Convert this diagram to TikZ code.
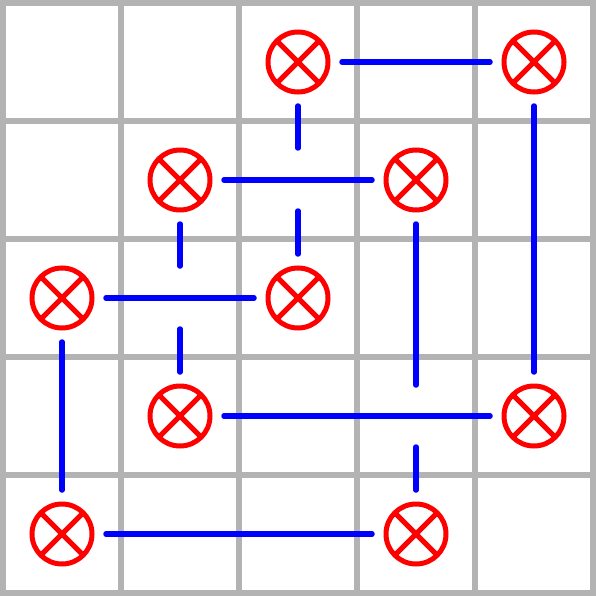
\documentclass[tikz,border=0pt]{standalone}
\begin{document}
\begin{tikzpicture}[x=1pt,y=-1pt,
  gridline/.style={draw={rgb,255:red,179;green,179;blue,179}, line width=6pt},
  cell/.style={circle, draw=red, line width=5pt, minimum size=60pt, inner sep=0pt,
    path picture={\draw[red,line width=5pt] (path picture bounding box.north west)--(path picture bounding box.south east)
      (path picture bounding box.north east)--(path picture bounding box.south west);}},
  wire/.style={draw=blue, line width=5.5pt, line cap=round, shorten >=11.5pt, shorten <=11.5pt},
  wirehalf/.style={draw=blue, line width=5.5pt, line cap=round, shorten <=11.5pt}]
\useasboundingbox (0,0) rectangle (596,596);
\fill[white] (0,0) rectangle (596,596);
\foreach \p in {3,121,239,357,475,593}{
  \draw[gridline] (\p,0) -- (\p,596);
  \draw[gridline] (0,\p) -- (596,\p);
}
% nodes
\node[cell] (a) at (298,62) {};
\node[cell] (b) at (534,62) {};
\node[cell] (c) at (180,180) {};
\node[cell] (d) at (416,180) {};
\node[cell] (e) at (62,298) {};
\node[cell] (f) at (298,298) {};
\node[cell] (g) at (180,416) {};
\node[cell] (h) at (534,416) {};
\node[cell] (i) at (62,534) {};
\node[cell] (j) at (416,534) {};
% crossing gap coordinates
\coordinate (x1a) at (298,148);
\coordinate (x1b) at (298,211);
\coordinate (x2a) at (180,266);
\coordinate (x2b) at (180,329);
\coordinate (x3a) at (416,385);
\coordinate (x3b) at (416,447);
% connectors
\draw[wire] (a) -- (b);
\draw[wire] (b) -- (h);
\draw[wire] (c) -- (d);
\draw[wire] (e) -- (f);
\draw[wire] (g) -- (h);
\draw[wire] (e) -- (i);
\draw[wire] (i) -- (j);
\draw[wirehalf] (a) -- (x1a);
\draw[wirehalf] (f) -- (x1b);
\draw[wirehalf] (c) -- (x2a);
\draw[wirehalf] (g) -- (x2b);
\draw[wirehalf] (d) -- (x3a);
\draw[wirehalf] (j) -- (x3b);
\end{tikzpicture}
\end{document}
